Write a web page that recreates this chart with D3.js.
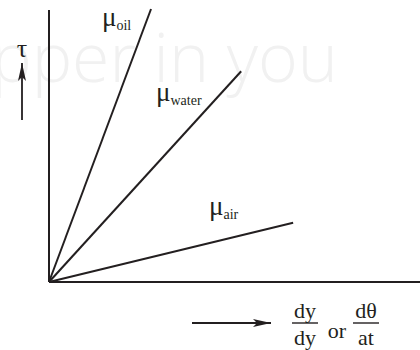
<!DOCTYPE html>
<html lang="en">

<head>
    <meta charset="UTF-8">
    <title>Viscosity lines</title>
    <script src="https://d3js.org/d3.v7.min.js"></script>
    <style>
        body { margin: 0; background: #fff; }
        svg { display: block; }
    </style>
</head>

<body>

    <svg></svg>

    <script>

        // Fluids and the end point of each shear stress line (data units)
        const fluids = ["oil", "water", "air"];
        const strainRate = [2.75, 5.18, 6.58];
        const shearStress = [10, 7.72, 2.17];

        const W = 420, H = 350;
        const ink = "#231f20";
        const serif = "'Liberation Serif', 'Times New Roman', serif";

        const svg = d3.select("svg")
            .attr("width", W)
            .attr("height", H);

        // Scales: origin at (49, 282)
        const x = d3.scaleLinear().domain([0, 10]).range([49, 420]);
        const y = d3.scaleLinear().domain([0, 10]).range([282, 9]);

        // Watermark
        svg.append("text")
            .attr("x", 338)
            .attr("y", 82)
            .attr("text-anchor", "end")
            .attr("fill", "#f1f1f1")
            .style("font-family", "'Open Sans', sans-serif")
            .style("font-weight", 300)
            .style("font-size", "68px")
            .text("copper in you");

        // Axes (no ticks)
        svg.append("line")
            .attr("x1", x(0)).attr("x2", x(0))
            .attr("y1", y(0)).attr("y2", y(0) - 272)
            .attr("stroke", ink).attr("stroke-width", 2);
        svg.append("line")
            .attr("x1", x(0)).attr("x2", x(10))
            .attr("y1", y(0)).attr("y2", y(0))
            .attr("stroke", ink).attr("stroke-width", 2);

        // Lines from the origin
        const ends = fluids.map((f, i) => ({ fluid: f, rate: strainRate[i], stress: shearStress[i] }));
        svg.selectAll("line.fluid")
            .data(ends)
            .enter()
            .append("line")
            .attr("class", "fluid")
            .attr("x1", x(0)).attr("y1", y(0))
            .attr("x2", d => x(d.rate))
            .attr("y2", d => y(d.stress))
            .attr("stroke", ink)
            .attr("stroke-width", 2);

        // mu labels
        const labelPos = { oil: [102, 26], water: [156, 101], air: [209, 215] };
        ends.forEach(d => {
            const [lx, ly] = labelPos[d.fluid];
            const t = svg.append("text")
                .attr("x", lx).attr("y", ly)
                .attr("fill", ink)
                .style("font-family", serif);
            t.append("tspan").style("font-size", "27px").text("\u03bc");
            t.append("tspan").attr("dy", 4).style("font-size", "14px").text(d.fluid);
        });

        // Arrow marker
        svg.append("defs").append("marker")
            .attr("id", "head")
            .attr("viewBox", "0 0 18 8")
            .attr("refX", 18).attr("refY", 4)
            .attr("markerWidth", 18).attr("markerHeight", 8)
            .attr("markerUnits", "userSpaceOnUse")
            .attr("orient", "auto")
            .append("path")
            .attr("d", "M0,0 L18,4 L0,8 L4,4 Z")
            .attr("fill", ink);

        // tau arrow
        svg.append("line")
            .attr("x1", 22).attr("y1", 120)
            .attr("x2", 22).attr("y2", 63)
            .attr("stroke", ink).attr("stroke-width", 1.8)
            .attr("marker-end", "url(#head)");
        svg.append("text")
            .attr("x", 22).attr("y", 57)
            .attr("text-anchor", "middle")
            .attr("fill", ink)
            .style("font-family", serif)
            .style("font-size", "26px")
            .text("\u03c4");

        // strain rate arrow
        svg.append("line")
            .attr("x1", 192).attr("y1", 323)
            .attr("x2", 271).attr("y2", 323)
            .attr("stroke", ink).attr("stroke-width", 1.8)
            .attr("marker-end", "url(#head)");

        // fractions dy/dy or dθ/at
        function fraction(cx, num, den) {
            const g = svg.append("g")
                .attr("fill", ink)
                .style("font-family", serif)
                .style("font-size", "22px")
                .attr("text-anchor", "middle");
            g.append("text").attr("x", cx).attr("y", 318).text(num);
            g.append("text").attr("x", cx).attr("y", 345).text(den);
            svg.append("line")
                .attr("x1", cx - 13).attr("x2", cx + 13)
                .attr("y1", 323).attr("y2", 323)
                .attr("stroke", ink).attr("stroke-width", 1.4);
        }
        fraction(305, "dy", "dy");
        svg.append("text")
            .attr("x", 337).attr("y", 338)
            .attr("text-anchor", "middle")
            .attr("fill", ink)
            .style("font-family", serif)
            .style("font-size", "22px")
            .text("or");
        fraction(366, "d\u03b8", "at");

    </script>

</body>

</html>
